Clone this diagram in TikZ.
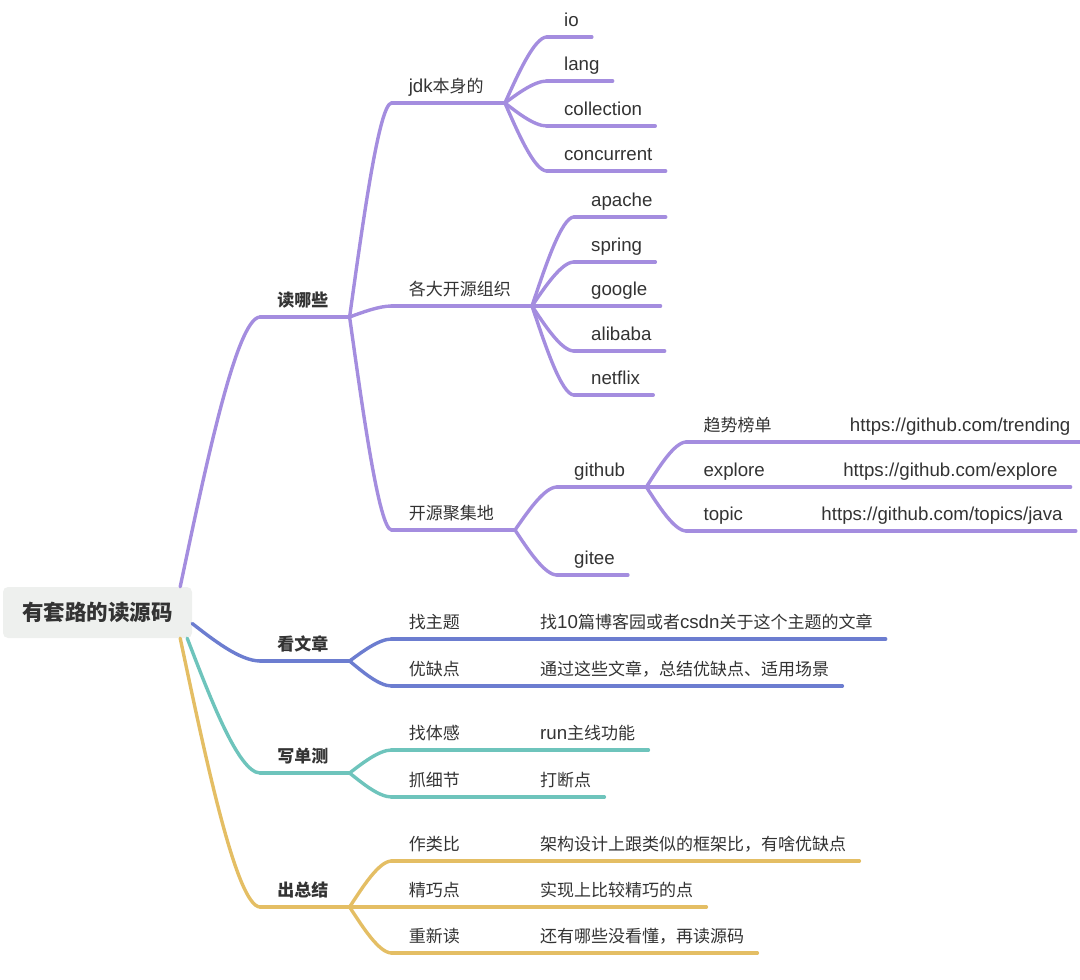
\documentclass[tikz,border=0pt]{standalone}
\usepackage{fontspec}
\setmainfont{Liberation Sans}[Scale=1.1]
\newfontfamily\cjk{Noto Sans CJK SC}
\usetikzlibrary{calc, positioning}

% Han characters and CJK punctuation switch to the CJK face
\XeTeXinterchartokenstate=1
\newXeTeXintercharclass\hanclass
\makeatletter
\count@="4E00
\loop
  \XeTeXcharclass\count@=\hanclass
  \advance\count@ by 1
\ifnum\count@<"A000\relax\repeat
\makeatother
\XeTeXcharclass"3001=\hanclass
\XeTeXcharclass"FF0C=\hanclass
\XeTeXinterchartoks 0 \hanclass = {\cjk}
\XeTeXinterchartoks 4095 \hanclass = {\cjk}
\XeTeXinterchartoks \hanclass 0 = {\rmfamily}

\definecolor{readpurple}{HTML}{A48DDF}
\definecolor{postblue}{HTML}{6C7DD0}
\definecolor{testteal}{HTML}{6EC4BC}
\definecolor{sumgold}{HTML}{E4BE64}
\definecolor{inkgrey}{HTML}{333333}
\definecolor{rootgrey}{HTML}{EEF0EE}

\tikzset{
  rootbox/.style={rectangle, fill=rootgrey, rounded corners=5pt,
                  minimum width=189pt, minimum height=51pt, text=inkgrey,
                  font=\fontsize{21.5}{26}\selectfont\bfseries},
  uline/.style={line width=3.4pt, line cap=round},
  topic/.style={anchor=south west, inner xsep=0pt, inner ysep=10.5pt,
                text depth=0pt, text=inkgrey, font=\fontsize{17}{20}\selectfont,
                execute at begin node=\hspace*{17pt},
                execute at end node=\hspace*{13pt},
                append after command={(\tikzlastnode.south west) edge[uline] (\tikzlastnode.south east)}},
  forknode/.style={execute at end node=\hspace*{8pt}},
  maintopic/.style={topic, forknode, font=\fontsize{17}{20}\selectfont\bfseries},
  twig/.style={uline, to path={let \p1=(\tikztostart), \p2=(\tikztotarget) in
               .. controls ({\x1+0.3*(\x2-\x1)},{\y1+0.42*(\y2-\y1)})
               and ({\x2-0.3*(\x2-\x1)},\y2) .. (\tikztotarget)}},
}

\begin{document}
\begin{tikzpicture}[x=1pt, y=-1pt]
  \useasboundingbox (0,0) rectangle (1080,980);

  % --- central topic ---
  \node[rootbox] (root) at (97.5,612.5) {有套路的读源码};
  \coordinate (c-root) at ($(root.east)+(68,0)$);

  % --- 读哪些 ---
  \begin{scope}[readpurple]
    \node[maintopic] (reads) at (c-root |- 0,317) {读哪些};
    \draw[twig] ([xshift=-12pt]root.north east) to (reads.south west);

    \coordinate (c-reads) at ($(reads.south east)+(42,0)$);
    \node[topic, forknode] (jdk)  at (c-reads |- 0,103) {jdk本身的};
    \node[topic, forknode] (orgs) at (c-reads |- 0,306) {各大开源组织};
    \node[topic, forknode] (hubs) at (c-reads |- 0,530) {开源聚集地};
    \draw[twig] (reads.south east) to (jdk.south west);
    \draw[twig] (reads.south east) to (orgs.south west);
    \draw[twig] (reads.south east) to (hubs.south west);

    % jdk itself
    \coordinate (c-jdk) at ($(jdk.south east)+(42,0)$);
    \node[topic] (io)         at (c-jdk |- 0,37)  {io};
    \node[topic] (lang)       at (c-jdk |- 0,81)  {lang};
    \node[topic] (collection) at (c-jdk |- 0,126) {collection};
    \node[topic] (concurrent) at (c-jdk |- 0,171) {concurrent};
    \draw[twig] (jdk.south east) to (io.south west);
    \draw[twig] (jdk.south east) to (lang.south west);
    \draw[twig] (jdk.south east) to (collection.south west);
    \draw[twig] (jdk.south east) to (concurrent.south west);

    % open source organisations
    \coordinate (c-orgs) at ($(orgs.south east)+(42,0)$);
    \node[topic] (apache)  at (c-orgs |- 0,217) {apache};
    \node[topic] (spring)  at (c-orgs |- 0,262) {spring};
    \node[topic] (google)  at (c-orgs |- 0,306) {google};
    \node[topic] (alibaba) at (c-orgs |- 0,351) {alibaba};
    \node[topic] (netflix) at (c-orgs |- 0,395) {netflix};
    \draw[twig] (orgs.south east) to (apache.south west);
    \draw[twig] (orgs.south east) to (spring.south west);
    \draw[twig] (orgs.south east) to (google.south west);
    \draw[twig] (orgs.south east) to (alibaba.south west);
    \draw[twig] (orgs.south east) to (netflix.south west);

    % code hosting sites
    \coordinate (c-hubs) at ($(hubs.south east)+(42,0)$);
    \node[topic, forknode] (github) at (c-hubs |- 0,487) {github};
    \node[topic]           (gitee)  at (c-hubs |- 0,575) {gitee};
    \draw[twig] (hubs.south east) to (github.south west);
    \draw[twig] (hubs.south east) to (gitee.south west);

    \coordinate (c-github) at ($(github.south east)+(40,0)$);
    \node[topic, forknode] (trend)   at (c-github |- 0,442) {趋势榜单};
    \node[topic, forknode] (explore) at (c-github |- 0,487) {explore};
    \node[topic, forknode] (topics)  at (c-github |- 0,531) {topic};
    \draw[twig] (github.south east) to (trend.south west);
    \draw[twig] (github.south east) to (explore.south west);
    \draw[twig] (github.south east) to (topics.south west);

    \node[topic] (trendurl)   at ($(trend.south east)+(40,0)$)   {https://github.com/trending};
    \node[topic] (exploreurl) at ($(explore.south east)+(40,0)$) {https://github.com/explore};
    \node[topic] (topicsurl)  at ($(topics.south east)+(40,0)$)  {https://github.com/topics/java};
    \draw[twig] (trend.south east) to (trendurl.south west);
    \draw[twig] (explore.south east) to (exploreurl.south west);
    \draw[twig] (topics.south east) to (topicsurl.south west);
  \end{scope}

  % --- 看文章 ---
  \begin{scope}[postblue]
    \node[maintopic] (posts) at (c-root |- 0,661) {看文章};
    \draw[twig] ([yshift=-11pt]root.east) to (posts.south west);

    \coordinate (c-posts) at ($(posts.south east)+(42,0)$);
    \node[topic, forknode] (find) at (c-posts |- 0,639) {找主题};
    \node[topic, forknode] (pros) at (c-posts |- 0,686) {优缺点};
    \draw[twig] (posts.south east) to (find.south west);
    \draw[twig] (posts.south east) to (pros.south west);

    \node[topic] (findtext) at ($(find.south east)+(42,0)$) {找10篇博客园或者csdn关于这个主题的文章};
    \node[topic] (prostext) at ($(pros.south east)+(42,0)$) {通过这些文章，总结优缺点、适用场景};
    \draw[twig] (find.south east) to (findtext.south west);
    \draw[twig] (pros.south east) to (prostext.south west);
  \end{scope}

  % --- 写单测 ---
  \begin{scope}[testteal]
    \node[maintopic] (tests) at (c-root |- 0,773) {写单测};
    \draw[twig] ([xshift=-5pt]root.south east) to (tests.south west);

    \coordinate (c-tests) at ($(tests.south east)+(42,0)$);
    \node[topic, forknode] (feel)   at (c-tests |- 0,750) {找体感};
    \node[topic, forknode] (detail) at (c-tests |- 0,797) {抓细节};
    \draw[twig] (tests.south east) to (feel.south west);
    \draw[twig] (tests.south east) to (detail.south west);

    \node[topic] (feeltext)   at ($(feel.south east)+(42,0)$)   {run主线功能};
    \node[topic] (detailtext) at ($(detail.south east)+(42,0)$) {打断点};
    \draw[twig] (feel.south east) to (feeltext.south west);
    \draw[twig] (detail.south east) to (detailtext.south west);
  \end{scope}

  % --- 出总结 ---
  \begin{scope}[sumgold]
    \node[maintopic] (sums) at (c-root |- 0,907) {出总结};
    \draw[twig] ([xshift=-12pt]root.south east) to (sums.south west);

    \coordinate (c-sums) at ($(sums.south east)+(42,0)$);
    \node[topic, forknode] (compare) at (c-sums |- 0,861) {作类比};
    \node[topic, forknode] (clever)  at (c-sums |- 0,907) {精巧点};
    \node[topic, forknode] (reread)  at (c-sums |- 0,953) {重新读};
    \draw[twig] (sums.south east) to (compare.south west);
    \draw[twig] (sums.south east) to (clever.south west);
    \draw[twig] (sums.south east) to (reread.south west);

    \node[topic] (comparetext) at ($(compare.south east)+(42,0)$) {架构设计上跟类似的框架比，有啥优缺点};
    \node[topic] (clevertext)  at ($(clever.south east)+(42,0)$)  {实现上比较精巧的点};
    \node[topic] (rereadtext)  at ($(reread.south east)+(42,0)$)  {还有哪些没看懂，再读源码};
    \draw[twig] (compare.south east) to (comparetext.south west);
    \draw[twig] (clever.south east) to (clevertext.south west);
    \draw[twig] (reread.south east) to (rereadtext.south west);
  \end{scope}
\end{tikzpicture}
\end{document}
